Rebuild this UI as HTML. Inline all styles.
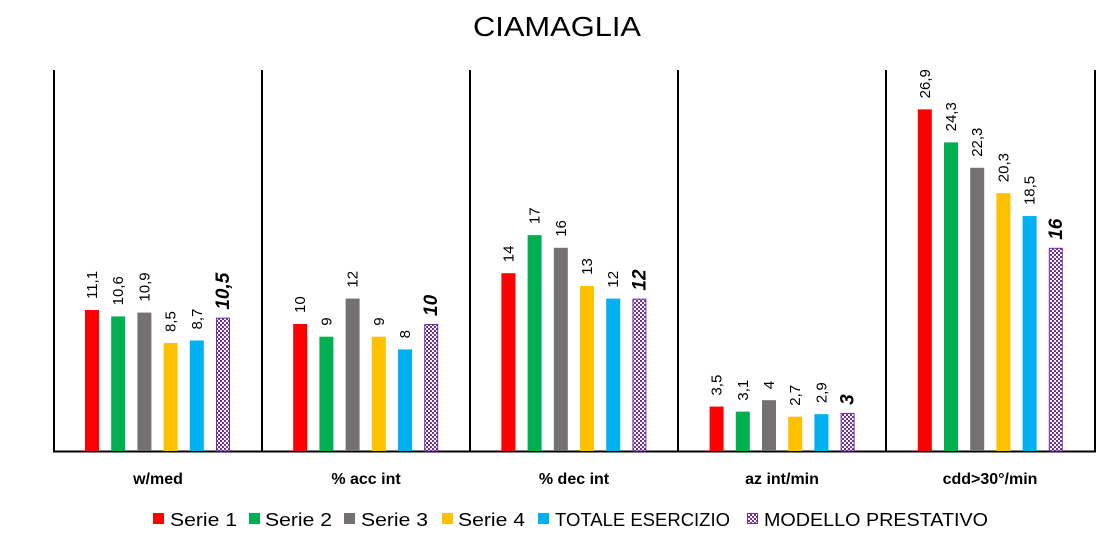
<!DOCTYPE html>
<html><head><meta charset="utf-8"><style>
body{margin:0;background:#fff;}
svg{display:block;font-family:"Liberation Sans",sans-serif;}
</style></head><body>
<svg width="1114" height="545" xmlns="http://www.w3.org/2000/svg">
<defs>
<pattern id="chk" width="4" height="4" patternUnits="userSpaceOnUse">
<rect width="4" height="4" fill="#fff"/>
<rect width="2" height="2" fill="#7030a0"/>
<rect x="2" y="2" width="2" height="2" fill="#7030a0"/>
</pattern>
</defs>
<text x="557" y="36" text-anchor="middle" font-size="28" fill="#000" textLength="168" lengthAdjust="spacingAndGlyphs">CIAMAGLIA</text>
<g stroke="#000" stroke-width="2">
<line x1="54" y1="70" x2="54" y2="452"/>
<line x1="262" y1="70" x2="262" y2="452"/>
<line x1="470" y1="70" x2="470" y2="452"/>
<line x1="678" y1="70" x2="678" y2="452"/>
<line x1="886" y1="70" x2="886" y2="452"/>
<line x1="1095" y1="70" x2="1095" y2="452"/>
<line x1="53" y1="451.5" x2="1096" y2="451.5"/>
</g>
<g id="bars"></g>
<g font-weight="bold" font-size="16" text-anchor="middle" fill="#000">
<text x="158" y="484">w/med</text>
<text x="366" y="484">% acc int</text>
<text x="574" y="484">% dec int</text>
<text x="782" y="484">az int/min</text>
<text x="990" y="484">cdd&gt;30°/min</text>
</g>
<g font-size="18" fill="#000">
<rect x="153" y="513" width="11" height="11" fill="#ff0000"/><text x="170" y="526" textLength="67" lengthAdjust="spacingAndGlyphs">Serie 1</text>
<rect x="249" y="513" width="11" height="11" fill="#00b050"/><text x="265" y="526" textLength="67" lengthAdjust="spacingAndGlyphs">Serie 2</text>
<rect x="344" y="513" width="11" height="11" fill="#767171"/><text x="361" y="526" textLength="67" lengthAdjust="spacingAndGlyphs">Serie 3</text>
<rect x="442" y="513" width="11" height="11" fill="#ffc000"/><text x="458" y="526" textLength="67" lengthAdjust="spacingAndGlyphs">Serie 4</text>
<rect x="538" y="513" width="11" height="11" fill="#00b0f0"/><text x="555" y="526" textLength="175" lengthAdjust="spacingAndGlyphs">TOTALE ESERCIZIO</text>
<rect x="747.5" y="513.5" width="10" height="10" fill="url(#chk)" stroke="#7030a0"/><text x="764" y="526" textLength="224" lengthAdjust="spacingAndGlyphs">MODELLO PRESTATIVO</text>
</g>
</svg>
<script>
var data=[[11.1,10.6,10.9,8.5,8.7,10.5],[10,9,12,9,8,10],[14,17,16,13,12,12],[3.5,3.1,4,2.7,2.9,3],[26.9,24.3,22.3,20.3,18.5,16]];
var cols=["#ff0000","#00b050","#767171","#ffc000","#00b0f0","url(#chk)"];
var g=document.getElementById("bars"),s="";
var scale=12.7,base=451;
for(var p=0;p<5;p++){var x0=54+p*208.2;
for(var i=0;i<6;i++){var v=data[p][i];var h=v*scale;var x=x0+31+i*26.2;var y=base-h;
if(i==5){s+='<rect x="'+(x+0.5)+'" y="'+(y+0.5)+'" width="13" height="'+(h-0.5)+'" fill="url(#chk)" stroke="#7030a0" stroke-width="1"/>';}
else s+='<rect x="'+x+'" y="'+y+'" width="14" height="'+h+'" fill="'+cols[i]+'"/>';
var lbl=String(v).replace(".",",");var cx=x+7+5,ty=y-11;
if(i==5){cx=x+7+6;s+='<text transform="translate('+cx+','+(y-8)+') rotate(-90)" font-size="19" font-weight="bold" font-style="italic">'+lbl+'</text>';}
else s+='<text transform="translate('+cx+','+ty+') rotate(-90)" font-size="15">'+lbl+'</text>';
}}
g.innerHTML=s;
</script>
</body></html>
